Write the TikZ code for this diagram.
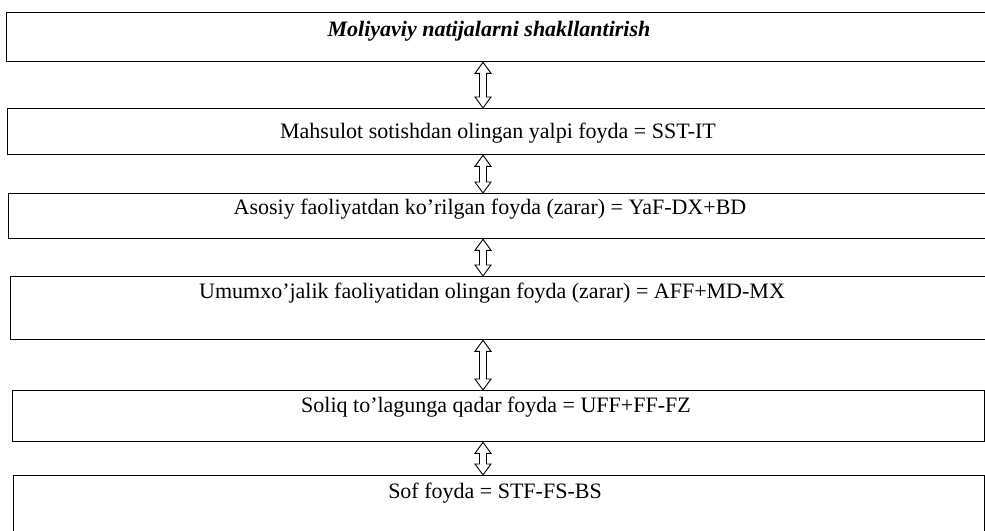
\documentclass[tikz,border=0pt]{standalone}
\usepackage{fontspec}
\setmainfont{Liberation Serif}
\usetikzlibrary{calc}
\tikzset{
  box/.style={draw, line width=1.3pt, rectangle, anchor=north west, inner sep=0pt},
  txt/.style={font=\fontsize{22}{26}\selectfont, inner sep=0pt},
  dblarr/.style={draw, line width=0.9pt, fill=white, line join=miter}
}
\begin{document}
\begin{tikzpicture}[x=1pt,y=-1pt]
    \useasboundingbox (0,0) rectangle (985,530);
    \clip (0,0) rectangle (985,530);
    \coordinate (ax) at (483,0);
    \node[box, minimum width=984pt, minimum height=49pt] (b1) at (6,12) {};
    \node[box, minimum width=983pt, minimum height=46pt] (b2) at (7,108) {};
    \node[box, minimum width=982pt, minimum height=45pt] (b3) at (8,193) {};
    \node[box, minimum width=980pt, minimum height=63pt] (b4) at (10,276) {};
    \node[box, minimum width=972pt, minimum height=51pt] (b5) at (12,390) {};
    \node[box, minimum width=971pt, minimum height=80pt] (b6) at (13,475) {};
    \node[txt, font=\fontsize{22}{26}\selectfont\bfseries\itshape] (t1) at (489,31) {Moliyaviy natijalarni shakllantirish};
    \node[txt] (t2) at (498,133) {Mahsulot sotishdan olingan yalpi foyda = SST-IT};
    \node[txt] (t3) at (490,209) {Asosiy faoliyatdan ko'rilgan foyda (zarar) = YaF-DX+BD};
    \node[txt] (t4) at (492,293) {Umumxo'jalik faoliyatidan olingan foyda (zarar) = AFF+MD-MX};
    \node[txt] (t5) at (496,407) {Soliq to'lagunga qadar foyda = UFF+FF-FZ};
    \node[txt] (t6) at (495,493) {Sof foyda = STF-FS-BS};
    \foreach \a/\b in {b1/b2,b2/b3,b3/b4,b4/b5,b5/b6}
        \draw[dblarr] let \p1=(\a.south -| ax), \p2=(\b.north -| ax) in
            (\x1,\y1) -- (\x1+8pt,\y1-11pt) -- (\x1+3.5pt,\y1-11pt) -- (\x1+3.5pt,\y2+11pt) -- (\x1+8pt,\y2+11pt)
            -- (\x1,\y2) -- (\x1-8pt,\y2+11pt) -- (\x1-3.5pt,\y2+11pt) -- (\x1-3.5pt,\y1-11pt) -- (\x1-8pt,\y1-11pt) -- cycle;
\end{tikzpicture}
\end{document}
